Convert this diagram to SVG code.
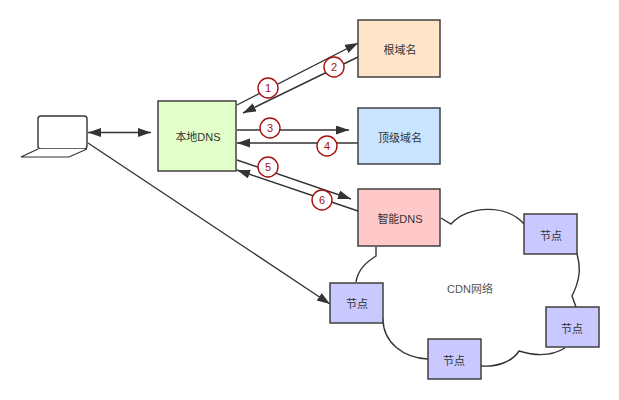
<svg xmlns="http://www.w3.org/2000/svg" width="619" height="400" viewBox="0 0 619 400">
<style>
.box{stroke:#404040;stroke-width:1.5}
.line{fill:none;stroke:#333;stroke-width:1.4}
.lab{font:11px "Liberation Sans","Noto Sans CJK SC",sans-serif;fill:#333;text-anchor:middle}
.mark circle{fill:#fff;stroke:#a80f0f;stroke-width:1.4}
.mark text{font:11px "Liberation Sans",sans-serif;fill:#a80f0f;text-anchor:middle}
</style>
<defs>
<marker id="a" markerUnits="userSpaceOnUse" markerWidth="14" markerHeight="10" refX="13" refY="4.500" orient="auto-start-reverse"><path d="M0 0L13 4.500L0 9Z" fill="#333"/></marker>
</defs>
<rect width="619" height="400" fill="#fff"/>
<g id="connectors">
<path class="line" d="M441 218L451 224C468 205 507 204 524 224"/>
<path class="line" d="M577 254C581 268 580 280 572 296L576 307"/>
<path class="line" d="M565 348C552 356 535 356 519 351C512 362 497 367 481 366"/>
<path class="line" d="M428 359C403 358 383 342 383 319"/>
<path class="line" d="M356 282C358 270 365 263 376 256L376 247"/>
<path class="line" marker-start="url(#a)" marker-end="url(#a)" d="M88 132.500H151"/>
<path class="line" marker-end="url(#a)" d="M88 143L330 304"/>
<path class="line" marker-end="url(#a)" d="M237 105L358 43"/>
<path class="line" marker-end="url(#a)" d="M358 57L243 113"/>
<path class="line" marker-end="url(#a)" d="M237 130H349"/>
<path class="line" marker-end="url(#a)" d="M358 143H237"/>
<path class="line" marker-end="url(#a)" d="M237 160L351 199"/>
<path class="line" marker-end="url(#a)" d="M358 211L237 170"/>
</g>
<g id="laptop">
<rect x="38" y="116" width="49" height="33" rx="3" fill="#fff" stroke="#333" stroke-width="1.4"/>
<path d="M38 149L21 157H69L87 149" fill="#fff" stroke="#333" stroke-width="1.2"/>
</g>
<g id="local-dns"><rect class="box" x="158" y="101" width="78" height="70" fill="#e3ffc9"/><text class="lab" x="198" y="141">本地DNS</text></g>
<g id="root"><rect class="box" x="358" y="20" width="82" height="57" fill="#ffe4c9"/><text class="lab" x="400" y="54">根域名</text></g>
<g id="tld"><rect class="box" x="358" y="108" width="82" height="56" fill="#c9e4ff"/><text class="lab" x="400" y="142">顶级域名</text></g>
<g id="smart-dns"><rect class="box" x="358" y="189" width="82" height="57" fill="#ffc9c9"/><text class="lab" x="400" y="223">智能DNS</text></g>
<g id="cdn"><text class="lab" x="470" y="293" style="fill:#555">CDN网络</text></g>
<g id="node1"><rect class="box" x="524" y="214" width="53" height="40" fill="#c9c9ff"/><text class="lab" x="551" y="240">节点</text></g>
<g id="node2"><rect class="box" x="546" y="307" width="53" height="40" fill="#c9c9ff"/><text class="lab" x="572" y="333">节点</text></g>
<g id="node3"><rect class="box" x="428" y="339" width="53" height="40" fill="#c9c9ff"/><text class="lab" x="454" y="365">节点</text></g>
<g id="node4"><rect class="box" x="330" y="283" width="53" height="40" fill="#c9c9ff"/><text class="lab" x="357" y="308">节点</text></g>
<g id="m1" class="mark"><circle cx="268" cy="88" r="10"/><text x="268" y="92">1</text></g>
<g id="m2" class="mark"><circle cx="334" cy="67" r="10"/><text x="334" y="71">2</text></g>
<g id="m3" class="mark"><circle cx="270" cy="128" r="10"/><text x="270" y="132">3</text></g>
<g id="m4" class="mark"><circle cx="327" cy="146" r="10"/><text x="327" y="150">4</text></g>
<g id="m5" class="mark"><circle cx="268" cy="167" r="10"/><text x="268" y="171">5</text></g>
<g id="m6" class="mark"><circle cx="322" cy="200" r="10"/><text x="322" y="204">6</text></g>
</svg>
